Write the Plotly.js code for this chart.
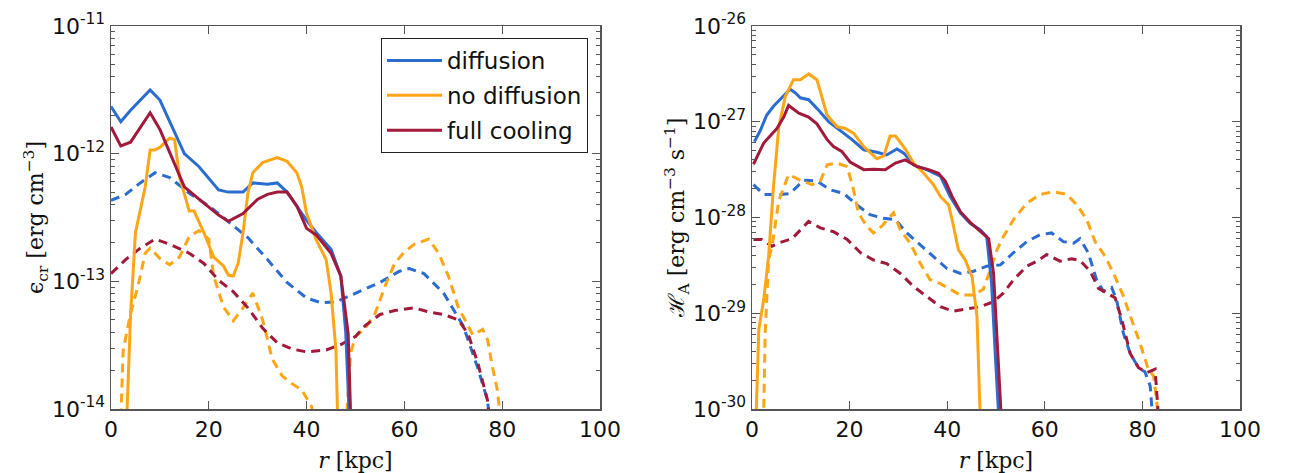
<!DOCTYPE html>
<html>
<head>
<meta charset="utf-8">
<script src="https://cdn.plot.ly/plotly-3.0.1.min.js"></script>
<style>html,body{margin:0;padding:0;background:#fff;}#chart{width:1303px;height:473px;}</style>
</head>
<body>
<div id="chart"></div>
<script>
// ---------- Left panel: cosmic-ray energy density e_cr [erg cm^-3] ----------
const L_diff_x = [0,2,4,8,10,15,18,22,24,27,29,32,34,36,40,42,45,47,48,49];
const L_diff_y = [2.34e-12,1.78e-12,2.19e-12,3.16e-12,2.63e-12,1.0e-12,7.9e-13,5.2e-13,5.0e-13,5.0e-13,5.9e-13,5.75e-13,5.9e-13,5.0e-13,3.0e-13,2.4e-13,1.78e-13,1.1e-13,4.0e-14,5e-15];

const L_nodiff_x = [3,4,5,7,8,9,10,12,13,14,16,17,19,21,23,24,25,26,27,28,29,31,34,36,38,39,40,42,44,45,46,46.5];
const L_nodiff_y = [5e-15,5.4e-14,2.4e-13,5.5e-13,1.07e-12,1.07e-12,1.12e-12,1.32e-12,1.29e-12,6.6e-13,3.55e-13,3.55e-13,2.4e-13,1.55e-13,1.32e-13,1.12e-13,1.1e-13,1.38e-13,2.4e-13,4.9e-13,7.1e-13,8.5e-13,9.3e-13,8.7e-13,7.1e-13,5.5e-13,3.4e-13,2.1e-13,1.48e-13,8.1e-14,2.9e-14,5e-15];

const L_cool_x = [0,2,4,8,10,15,18,22,24,27,30,32,34,36,38,40,42,45,47,48.5,49.2];
const L_cool_y = [1.62e-12,1.15e-12,1.23e-12,2.09e-12,1.55e-12,5.5e-13,4.4e-13,3.3e-13,2.95e-13,3.4e-13,4.4e-13,4.8e-13,5.0e-13,5.0e-13,3.9e-13,2.6e-13,2.3e-13,1.66e-13,1.1e-13,3.9e-14,5e-15];

const L_diffD_x = [0,3,6,9,12,16,20,24,28,32,36,40,43,46,50,55,59,61,64,68,72,75,77,78];
const L_diffD_y = [4.3e-13,4.8e-13,5.9e-13,7.1e-13,6.5e-13,4.9e-13,3.9e-13,2.95e-13,2.2e-13,1.48e-13,9.8e-14,7.4e-14,6.8e-14,6.9e-14,8.1e-14,9.8e-14,1.2e-13,1.26e-13,1.15e-13,8.1e-14,4.5e-14,2.1e-14,1.17e-14,5e-15];

const L_nodiffD_x = [1.8,2.5,4,5.5,7,8,10,12,14,16,18,20,21,23,25,27,29,31,33,35,37,39,41,42.5,47.8,49,50,52,54,56,58,60,62,65,67,69,71,73,74,76,77,78,79,80.3];
const L_nodiffD_y = [5e-15,2.9e-14,5.6e-14,9.1e-14,1.66e-13,1.82e-13,1.51e-13,1.35e-13,1.55e-13,2.24e-13,2.5e-13,2.14e-13,1.1e-13,6.3e-14,4.9e-14,6.2e-14,8.1e-14,5.0e-14,2.45e-14,1.82e-14,1.58e-14,1.41e-14,1.05e-14,5e-15,5e-15,2.75e-14,3.7e-14,4.3e-14,5.6e-14,9.1e-14,1.38e-13,1.7e-13,1.95e-13,2.14e-13,1.66e-13,1.1e-13,6.3e-14,4.5e-14,3.8e-14,4.2e-14,3.5e-14,2.14e-14,1.41e-14,5e-15];

const L_coolD_x = [0,3,6,9,12,16,19,22,25,28,31,34,37,40,44,47,50,52,55,58,62,65,68,71,73,75,77,78];
const L_coolD_y = [1.15e-13,1.48e-13,1.82e-13,2.14e-13,1.95e-13,1.66e-13,1.38e-13,1.02e-13,8.3e-14,6.2e-14,4.3e-14,3.3e-14,2.95e-14,2.8e-14,2.9e-14,3.2e-14,3.7e-14,4.5e-14,5.5e-14,5.9e-14,6.2e-14,5.75e-14,5.5e-14,5.0e-14,3.9e-14,2.3e-14,1.17e-14,5e-15];

// ---------- Right panel: Alfven heating H_A [erg cm^-3 s^-1] ----------
const R_diff_x = [0.5,1.7,3,4.4,6.1,7.8,8.9,9.9,11.6,13.3,15.7,18.1,20.5,22.9,25.6,27.6,29.7,31.1,33.1,35.8,38.6,40.6,42.7,44.7,46.8,48.1,49.1,49.8,50.8];
const R_diff_y = [6.2e-28,8.1e-28,1.17e-27,1.45e-27,1.78e-27,2.19e-27,2.0e-27,1.78e-27,1.7e-27,1.38e-27,1.0e-27,8.1e-28,6.5e-28,5.1e-28,4.8e-28,4.5e-28,5.2e-28,4.7e-28,3.55e-28,3.16e-28,2.7e-28,1.66e-28,1.12e-28,8.7e-29,7.4e-29,6.3e-29,2.04e-29,4.2e-30,5e-31];

const R_nodiff_x = [0.7,1.4,2.4,3.4,4.4,5.5,6.8,8.5,9.9,11.6,13.3,15.4,17.4,19.1,20.8,22.9,25.6,27.0,28.3,29.4,31.4,33.1,35.2,37.2,38.6,40.3,41.3,42.3,43.7,45.1,46.1,46.9];
const R_nodiff_y = [5e-31,6.8e-30,1.38e-29,3.9e-29,2.1e-28,8.9e-28,1.82e-27,2.75e-27,2.75e-27,3.16e-27,2.75e-27,1.17e-27,8.9e-28,8.5e-28,7.6e-28,5.5e-28,4.1e-28,4.4e-28,7.1e-28,7.1e-28,5.2e-28,3.7e-28,2.9e-28,2.2e-28,1.66e-28,1.35e-28,8.1e-29,4.6e-29,3.6e-29,2.4e-29,9.3e-30,5e-31];

const R_cool_x = [0.3,1.4,2.4,3.8,5.1,6.5,7.5,9.6,11.6,13.3,15.4,16.7,18.4,20.1,22.9,24.9,27.3,29.4,31.4,33.8,36.2,38.2,39.6,41.0,42.7,44.7,46.8,48.5,49.5,50.2,51.3];
const R_cool_y = [3.6e-28,4.7e-28,6.0e-28,7.2e-28,8.5e-28,1.12e-27,1.48e-27,1.23e-27,1.12e-27,9.5e-28,6.5e-28,5.5e-28,4.9e-28,3.8e-28,3.16e-28,3.2e-28,3.16e-28,3.7e-28,4.0e-28,3.4e-28,3.16e-28,2.9e-28,2.4e-28,1.66e-28,1.15e-28,8.9e-29,7.1e-29,6.0e-29,2.6e-29,6.2e-30,5e-31];

const R_diffD_x = [0.3,2.4,5.8,7.8,10.6,13.3,16.0,18.8,21.5,24.2,27.0,29.4,31.7,34.5,37.2,39.9,42.7,45.4,48.1,50.9,53.6,56.3,59.0,61.4,63.8,65.9,67.2,68.9,70.6,72.0,73.7,74.7,76.1,77.5,79.2,80.5,81.6,82.4];
const R_diffD_y = [2.2e-28,1.74e-28,1.74e-28,1.78e-28,2.45e-28,2.4e-28,1.95e-28,1.78e-28,1.35e-28,1.07e-28,9.8e-29,9.5e-29,6.9e-29,5.1e-29,3.9e-29,2.95e-29,2.6e-29,2.75e-29,3.1e-29,3.2e-29,4.3e-29,5.6e-29,6.6e-29,6.9e-29,5.6e-29,5.4e-29,6.0e-29,4.3e-29,2.24e-29,1.7e-29,1.86e-29,1.38e-29,6.2e-30,3.8e-30,2.7e-30,2.45e-30,1.74e-30,5e-31];

const R_nodiffD_x = [2.3,2.7,3.4,4.1,5.5,7.5,9.9,12.3,14.0,15.4,17.4,19.5,20.8,21.8,23.5,24.9,26.6,28.0,29.0,30.4,32.4,34.5,36.5,38.6,40.6,42.7,45.4,47.4,49.1,50.2,51.5,53.6,56.3,59.0,61.8,64.5,66.6,68.6,70.3,72.4,74.4,76.1,77.8,79.5,81.2,82.3,82.9,83.6];
const R_nodiffD_y = [5e-31,6.2e-30,3.6e-29,5.0e-29,1.51e-28,2.8e-28,2.45e-28,2.2e-28,2.4e-28,3.55e-28,3.7e-28,3.4e-28,1.95e-28,1.12e-28,8.1e-29,6.9e-29,8.1e-29,9.8e-29,1.12e-28,7.4e-29,5.4e-29,3.3e-29,2.24e-29,2.04e-29,1.78e-29,1.55e-29,1.55e-29,1.78e-29,3.1e-29,4.6e-29,6.3e-29,9.5e-29,1.41e-28,1.74e-28,1.86e-28,1.74e-28,1.35e-28,9.5e-29,5.6e-29,3.9e-29,2.4e-29,1.51e-29,8.5e-30,4.9e-30,2.6e-30,2.2e-30,1.26e-30,5e-31];

const R_coolD_x = [0.3,2.0,4.1,5.8,8.2,11.6,14.0,16.7,19.5,22.2,24.9,27.6,30.4,33.1,35.8,38.6,41.3,44.0,46.8,49.5,51.5,53.6,56.3,58.4,60.4,63.1,65.5,67.2,69.3,71.0,72.7,74.4,75.8,77.5,79.2,80.9,82.6,82.9,83.6];
const R_coolD_y = [5.9e-29,5.9e-29,5.0e-29,5.5e-29,6.0e-29,9.1e-29,7.8e-29,7.1e-29,5.9e-29,4.3e-29,3.6e-29,3.3e-29,2.6e-29,1.9e-29,1.5e-29,1.17e-29,1.05e-29,1.1e-29,1.17e-29,1.32e-29,1.62e-29,2.24e-29,3.1e-29,3.5e-29,4.1e-29,3.5e-29,3.7e-29,3.55e-29,2.75e-29,1.82e-29,1.62e-29,1.45e-29,8.5e-30,3.8e-30,2.7e-30,2.4e-30,2.6e-30,1.62e-30,5e-31];

// ---------- labels / ticks ----------
const seriesNames = ['diffusion','no diffusion','full cooling'];
const xTickVals = [0,20,40,60,80,100];
const L_yTickVals = [1e-14,1e-13,1e-12,1e-11];
const L_yTickText = ['10<sup>-14</sup>','10<sup>-13</sup>','10<sup>-12</sup>','10<sup>-11</sup>'];
const R_yTickVals = [1e-30,1e-29,1e-28,1e-27,1e-26];
const R_yTickText = ['10<sup>-30</sup>','10<sup>-29</sup>','10<sup>-28</sup>','10<sup>-27</sup>','10<sup>-26</sup>'];

const COL = {diff:'#2b6cd0', nodiff:'#fca617', cool:'#a11a3c'};
const LW = 3;
const DASH = '9px,6px';

function tr(x,y,color,dash,xa,ya,name,show,group){
  return {x:x,y:y,type:'scatter',mode:'lines',xaxis:xa,yaxis:ya,
    line:{color:color,width:LW,dash:dash},name:name,showlegend:show,legendgroup:group,hoverinfo:'skip'};
}

const data = [
  tr(L_diffD_x,L_diffD_y,COL.diff,DASH,'x','y','',false,'a'),
  tr(L_nodiffD_x,L_nodiffD_y,COL.nodiff,DASH,'x','y','',false,'b'),
  tr(L_coolD_x,L_coolD_y,COL.cool,DASH,'x','y','',false,'c'),
  tr(L_diff_x,L_diff_y,COL.diff,'solid','x','y',seriesNames[0],true,'a'),
  tr(L_nodiff_x,L_nodiff_y,COL.nodiff,'solid','x','y',seriesNames[1],true,'b'),
  tr(L_cool_x,L_cool_y,COL.cool,'solid','x','y',seriesNames[2],true,'c'),
  tr(R_diffD_x,R_diffD_y,COL.diff,DASH,'x2','y2','',false,'a'),
  tr(R_nodiffD_x,R_nodiffD_y,COL.nodiff,DASH,'x2','y2','',false,'b'),
  tr(R_coolD_x,R_coolD_y,COL.cool,DASH,'x2','y2','',false,'c'),
  tr(R_diff_x,R_diff_y,COL.diff,'solid','x2','y2','',false,'a'),
  tr(R_nodiff_x,R_nodiff_y,COL.nodiff,'solid','x2','y2','',false,'b'),
  tr(R_cool_x,R_cool_y,COL.cool,'solid','x2','y2','',false,'c')
];

const W=1303, H=473;
const tickFont = {family:'DejaVu Sans, sans-serif', size:22, color:'#111'};
const titleFont = {family:'DejaVu Serif, Liberation Serif, serif', size:22, color:'#111'};
const frame = '#555';

function xaxis(dom, anchor){
  return {domain:dom, anchor:anchor, range:[0,100], tickvals:xTickVals, ticks:'inside', ticklen:8, tickwidth:1.2,
    tickcolor:frame, mirror:'allticks', showline:true, linecolor:frame, linewidth:1.5, showgrid:false, zeroline:false,
    tickfont:tickFont, title:{text:'<i>r</i> [kpc]', font:titleFont, standoff:12}};
}
function yaxis(dom, anchor, rng, tv, tt, title){
  return {domain:dom, anchor:anchor, type:'log', range:rng, tickvals:tv, ticktext:tt, ticks:'inside', ticklen:8,
    tickwidth:1.2, tickcolor:frame, mirror:'allticks', showline:true, linecolor:frame, linewidth:1.5, showgrid:false,
    zeroline:false, tickfont:tickFont,
    minor:{ticks:'inside', ticklen:4, tickwidth:1, tickcolor:frame, dtick:'D1', showgrid:false},
    title:{text:title, font:titleFont, standoff:2}};
}

const yDom = [1-409/H, 1-26/H];
const layout = {
  width:W, height:H, margin:{l:0,r:0,t:0,b:0}, paper_bgcolor:'#fff', plot_bgcolor:'#fff',
  xaxis: xaxis([111/W, 600/W], 'y'),
  yaxis: yaxis(yDom, 'x', [-14,-11], L_yTickVals, L_yTickText, 'ϵ<sub>cr</sub> [erg cm<sup>−3</sup>]'),
  xaxis2: xaxis([752/W, 1240/W], 'y2'),
  yaxis2: yaxis(yDom, 'x2', [-30,-26], R_yTickVals, R_yTickText, 'ℋ<sub>A</sub> [erg cm<sup>−3</sup> s<sup>−1</sup>]'),
  showlegend:true,
  legend:{x:588/W, xanchor:'right', y:1-38/H, yanchor:'top', bordercolor:'#222', borderwidth:1,
    bgcolor:'#fff', font:{family:'DejaVu Sans, sans-serif', size:23, color:'#111'},
    traceorder:'grouped', tracegroupgap:2, itemwidth:55}
};

Plotly.newPlot('chart', data, layout, {staticPlot:true, displayModeBar:false});
</script>
</body>
</html>
